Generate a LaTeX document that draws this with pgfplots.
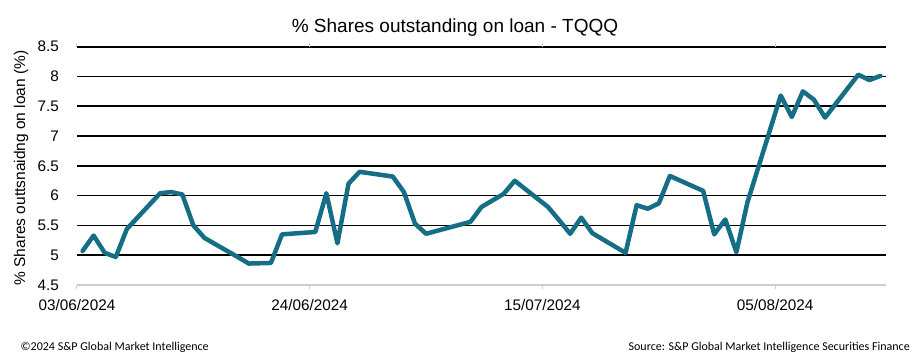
\documentclass[border=0pt]{standalone}
\usepackage{pgfplots}
\pgfplotsset{compat=1.18}
\usepackage{fontspec}
\setmainfont{Liberation Sans}
\newfontfamily\footfont{Carlito}
\definecolor{lineteal}{RGB}{22,110,134}
\definecolor{axisgray}{RGB}{205,205,205}
\begin{document}
\begin{tikzpicture}[x=1pt,y=1pt]
\path[use as bounding box] (0,0) rectangle (922,361);
\begin{axis}[
  at={(77pt,76pt)}, anchor=south west,
  width=809pt, height=238.3pt, scale only axis,
  xmin=0, xmax=73, ymin=4.5, ymax=8.5,
  axis line style={draw=none},
  ytick={5,5.5,...,8.5},
  yticklabels={5,5.5,6,6.5,7,7.5,8,8.5},
  extra y ticks={4.5}, extra y tick labels={4.5},
  extra y tick style={grid=none},
  ymajorgrids, grid style={black, line width=1.7pt},
  ytick style={draw=none},
  xtick={0,21,42,63},
  xticklabels={03/06/2024,24/06/2024,15/07/2024,05/08/2024},
  xtick style={draw=axisgray, line width=1pt},
  tick align=outside, major tick length=4pt,
  yticklabel style={font=\fontsize{15.3}{15.3}\selectfont, inner sep=0pt, anchor=east, xshift=-14pt},
  xticklabel style={font=\fontsize{15.3}{15.3}\selectfont, inner sep=0pt, anchor=north, yshift=-10.5pt},
  clip=false,
]
\draw[axisgray, line width=1.8pt] (rel axis cs:0,0) -- (rel axis cs:1,0);
\addplot[lineteal, line width=4.5pt, line join=round, line cap=round] coordinates {
(0.5,5.07) (1.5,5.33) (2.5,5.04) (3.5,4.97) (4.5,5.44)
(7.5,6.04) (8.5,6.06) (9.5,6.02) (10.5,5.50) (11.5,5.29)
(14.5,4.97) (15.5,4.86) (16.5,4.865) (17.5,4.87) (18.5,5.35)
(21.5,5.39) (22.5,6.04) (23.5,5.20) (24.5,6.20) (25.5,6.40)
(28.5,6.32) (29.5,6.06) (30.5,5.53) (31.5,5.36) (33.5,5.46)
(35.5,5.56) (36.5,5.81) (37.5,5.92) (38.5,6.03) (39.5,6.25)
(42.5,5.81) (43.5,5.59) (44.5,5.36) (45.5,5.63) (46.5,5.37)
(49.5,5.04) (50.5,5.84) (51.5,5.78) (52.5,5.87) (53.5,6.33)
(56.5,6.08) (57.5,5.35) (58.5,5.60) (59.5,5.05) (60.5,5.89)
(63.5,7.68) (64.5,7.32) (65.5,7.75) (66.5,7.61) (67.5,7.31)
(70.5,8.03) (71.5,7.94) (72.5,8.01)
};
\end{axis}
\node[font=\fontsize{19}{19}\selectfont, anchor=base] at (455,328) {\% Shares outstanding on loan - TQQQ};
\node[font=\fontsize{15.5}{15.5}\selectfont, rotate=90] at (21,193) {\% Shares outtsnaidng on loan (\%)};
\node[font=\footfont\fontsize{12}{12}\selectfont, anchor=base west, inner sep=0pt] at (20.5,10) {\textcopyright2024 S\&P Global Market Intelligence};
\node[font=\footfont\fontsize{12}{12}\selectfont, anchor=base east, inner sep=0pt] at (910,10) {Source: S\&P Global Market Intelligence Securities Finance};
\end{tikzpicture}
\end{document}
